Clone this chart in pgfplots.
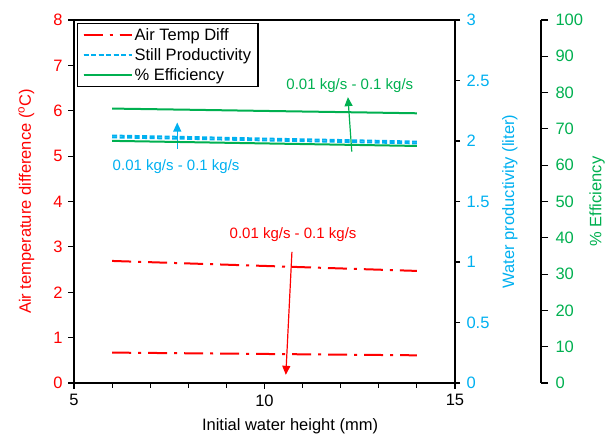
\documentclass[border=0pt]{standalone}
\usepackage{fontspec}
\setmainfont{Liberation Sans}
\usepackage{pgfplots}
\pgfplotsset{compat=1.18}
\usetikzlibrary{arrows.meta}
\definecolor{xred}{RGB}{255,0,0}
\definecolor{xblue}{RGB}{0,176,240}
\definecolor{xgreen}{RGB}{0,176,80}

\pgfplotsset{
  base/.style={
    scale only axis, width=381pt, height=363pt,
    xmin=5, xmax=15,
    /pgf/number format/assume math mode=true,
    tick label style={font=\fontsize{16.5}{19}\selectfont},
    label style={font=\fontsize{16.5}{19}\selectfont},
    axis line style={line width=1.1pt, black},
    tick style={line width=1.1pt, black},
    tick align=outside,
    major tick length=6pt, minor tick length=5pt,
  }
}

\begin{document}
\begin{tikzpicture}
\path[use as bounding box] (0,0) rectangle (614pt,434pt);
% main axis (air temperature difference)
\begin{axis}[base, at={(74pt,51pt)}, anchor=south west,
  ymin=0, ymax=8, ytick={0,1,...,8},
  xtick={5,10,15}, minor x tick num=4,
  xtick pos=bottom, ytick pos=left,
  yticklabel style={text=xred, xshift=-2pt},
  xticklabel style={yshift=-2pt},
  ylabel={Air temperature difference (\textsuperscript{o}C)},
  ylabel style={text=xred, at={(axis description cs:-0.125,0.5)}, anchor=center},
  xlabel={Initial water height (mm)},
  xlabel style={at={(axis description cs:0.567,-0.118)}, anchor=center},
  legend style={at={(axis description cs:0.008,0.992)}, anchor=north west,
    draw=black, line width=1.1pt, font=\fontsize{16.5}{19}\selectfont,
    inner xsep=5pt, inner ysep=3pt, row sep=2.5pt},
  legend cell align=left,
  legend image code/.code={\draw[#1] (0pt,0pt) -- (45pt,0pt); \path (0pt,0pt) -- (48pt,0pt);},
]
\addplot[xred, line width=2pt, dash pattern=on 19pt off 7pt on 3pt off 7pt]
  coordinates {(6,2.69) (8,2.635) (10,2.58) (12,2.525) (14,2.47)};
\addlegendentry{Air Temp Diff}
\addplot[xred, line width=2pt, dash pattern=on 19pt off 7pt on 3pt off 7pt, forget plot]
  coordinates {(6,0.67) (8,0.655) (10,0.64) (12,0.625) (14,0.61)};
\addlegendimage{xblue, line width=2pt, dash pattern=on 5pt off 2.5pt}
\addlegendentry{Still Productivity}
\addlegendimage{xgreen, line width=2pt}
\addlegendentry{\% Efficiency}
% annotations
\node[text=xgreen, font=\fontsize{15}{18}\selectfont] at (axis cs:12.24,6.55) {0.01 kg/s - 0.1 kg/s};
\draw[xgreen, line width=1.2pt, -{Triangle[length=9pt,width=8pt]}] (axis cs:12.29,5.10) -- (axis cs:12.19,6.30);
\node[text=xblue, font=\fontsize{15}{18}\selectfont] at (axis cs:7.68,4.77) {0.01 kg/s - 0.1 kg/s};
\draw[xblue, line width=1.2pt, -{Triangle[length=9pt,width=8pt]}] (axis cs:7.71,5.16) -- (axis cs:7.71,5.74);
\node[text=xred, font=\fontsize{15}{18}\selectfont] at (axis cs:10.75,3.28) {0.01 kg/s - 0.1 kg/s};
\draw[xred, line width=1.2pt, -{Triangle[length=9pt,width=8pt]}] (axis cs:10.72,2.89) -- (axis cs:10.56,0.18);
\end{axis}
% blue axis (water productivity)
\begin{axis}[base, at={(74pt,51pt)}, anchor=south west,
  ymin=0, ymax=3, ytick={0,0.5,1,1.5,2,2.5,3},
  axis y line*=right, axis x line=none,
  major tick length=5pt,
  yticklabel style={text=xblue, xshift=3pt},
  ylabel={Water productivity (liter)},
  ylabel style={text=xblue, at={(axis description cs:1.144,0.5)}, anchor=center},
]
\addplot[xblue, line width=2pt, dash pattern=on 5pt off 2.5pt]
  coordinates {(6,2.045) (8,2.033) (10,2.02) (12,2.008) (14,1.995)};
\addplot[xblue, line width=2pt, dash pattern=on 5pt off 2.5pt]
  coordinates {(6,2.03) (8,2.018) (10,2.005) (12,1.993) (14,1.98)};
\end{axis}
% green plots (efficiency)
\begin{axis}[base, at={(74pt,51pt)}, anchor=south west,
  ymin=0, ymax=100, hide axis]
\addplot[xgreen, line width=2pt]
  coordinates {(6,75.6) (8,75.28) (10,74.95) (12,74.63) (14,74.3)};
\addplot[xgreen, line width=2pt]
  coordinates {(6,66.7) (8,66.35) (10,66.0) (12,65.65) (14,65.3)};
\end{axis}
% green offset scale
\begin{axis}[base, at={(160pt,51pt)}, anchor=south west,
  ymin=0, ymax=100, ytick={0,10,...,100},
  axis y line*=right, axis x line=none,
  major tick length=7pt,
  yticklabel style={text=xgreen, xshift=4pt},
  ylabel={\% Efficiency},
  ylabel style={text=xgreen, at={(axis description cs:1.147,0.5)}, anchor=center},
]
\end{axis}
\end{tikzpicture}
\end{document}
